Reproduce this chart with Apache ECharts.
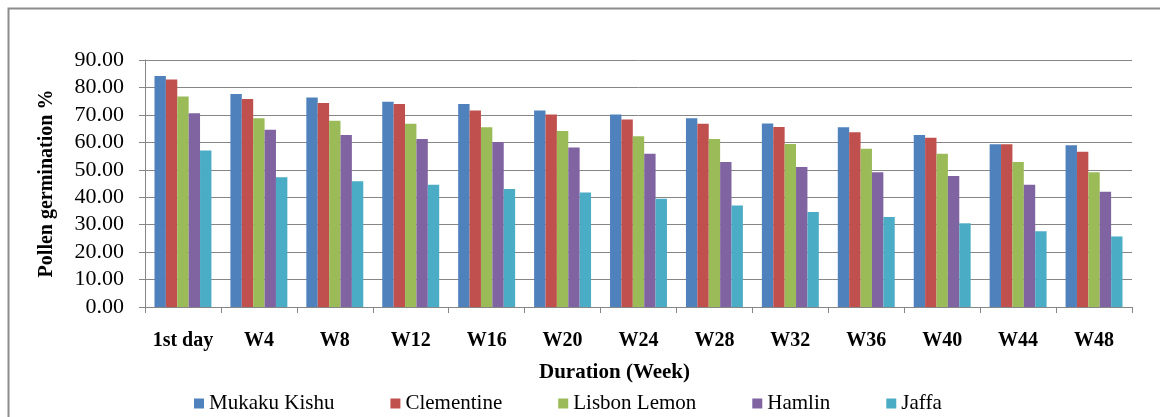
<!DOCTYPE html>
<html>
<head>
<meta charset="utf-8">
<script src="https://cdn.jsdelivr.net/npm/echarts@6/dist/echarts.min.js"></script>
<style>html,body{margin:0;padding:0;background:#fff;}#c{width:1160px;height:417px;}</style>
</head>
<body>
<div id="c"></div>
<script>
const categories = ['1st day','W4','W8','W12','W16','W20','W24','W28','W32','W36','W40','W44','W48'];
const mukakuKishu  = [84.2, 77.6, 76.3, 74.8, 74.0, 71.6, 70.1, 68.8, 66.9, 65.5, 62.7, 59.3, 58.9];
const clementine   = [82.9, 75.8, 74.3, 74.0, 71.6, 70.1, 68.3, 66.8, 65.6, 63.7, 61.7, 59.3, 56.6];
const lisbonLemon  = [76.7, 68.8, 67.9, 66.8, 65.5, 64.1, 62.2, 61.2, 59.4, 57.7, 55.8, 52.8, 49.1];
const hamlin       = [70.6, 64.6, 62.7, 61.2, 60.1, 58.1, 55.8, 52.8, 51.0, 49.1, 47.7, 44.5, 42.0];
const jaffa        = [57.0, 47.3, 45.8, 44.5, 43.0, 41.7, 39.4, 37.0, 34.6, 32.8, 30.5, 27.6, 25.7];
const seriesNames  = ['Mukaku Kishu','Clementine','Lisbon Lemon','Hamlin','Jaffa'];
const seriesColors = ['#4F81BD','#C0504D','#9BBB59','#8064A2','#4BACC6'];
const seriesData   = [mukakuKishu, clementine, lisbonLemon, hamlin, jaffa];

const font = 'Liberation Serif';
const chart = echarts.init(document.getElementById('c'), null, {renderer:'canvas'});
chart.setOption({
  animation: false,
  backgroundColor: '#fff',
  textStyle: {fontFamily: font, color: '#000'},
  graphic: [{
    type: 'rect', left: 6, top: 6, z: -1,
    shape: {width: 1200, height: 500},
    style: {fill: 'none', stroke: '#8c8c8c', lineWidth: 2}
  }],
  grid: {left: 145, right: 28, top: 60, bottom: 110, containLabel: false},
  legend: {
    left: 189, top: 388,
    itemWidth: 10, itemHeight: 10, itemGap: 56,
    icon: 'rect',
    textStyle: {fontFamily: font, fontSize: 21, color: '#000'},
    data: seriesNames
  },
  xAxis: {
    type: 'category',
    data: categories,
    name: 'Duration (Week)',
    nameLocation: 'middle',
    nameGap: 55,
    nameTextStyle: {fontFamily: font, fontSize: 21, fontWeight: 'bold', color: '#000', padding: [0,48,0,0]},
    axisLine: {lineStyle: {color: '#868686', width: 1}},
    axisTick: {show: true, length: 6, alignWithLabel: false, lineStyle: {color: '#868686'}},
    axisLabel: {fontFamily: font, fontSize: 20, fontWeight: 'bold', color: '#000', margin: 24, interval: 0}
  },
  yAxis: {
    type: 'value',
    min: 0, max: 90, interval: 10,
    name: 'Pollen germination %',
    nameLocation: 'middle',
    nameGap: 88,
    nameTextStyle: {fontFamily: font, fontSize: 20, fontWeight: 'bold', color: '#000'},
    axisLine: {show: true, lineStyle: {color: '#868686', width: 1}},
    axisTick: {show: true, length: 6, lineStyle: {color: '#868686'}},
    axisLabel: {fontFamily: font, fontSize: 22, color: '#000', margin: 21, formatter: v => v.toFixed(2)},
    splitLine: {show: true, lineStyle: {color: '#868686', width: 1}}
  },
  series: seriesNames.map((n, i) => ({
    name: n,
    type: 'bar',
    data: seriesData[i],
    barGap: '0%',
    barCategoryGap: '25%',
    itemStyle: {color: seriesColors[i]}
  }))
});
</script>
</body>
</html>
